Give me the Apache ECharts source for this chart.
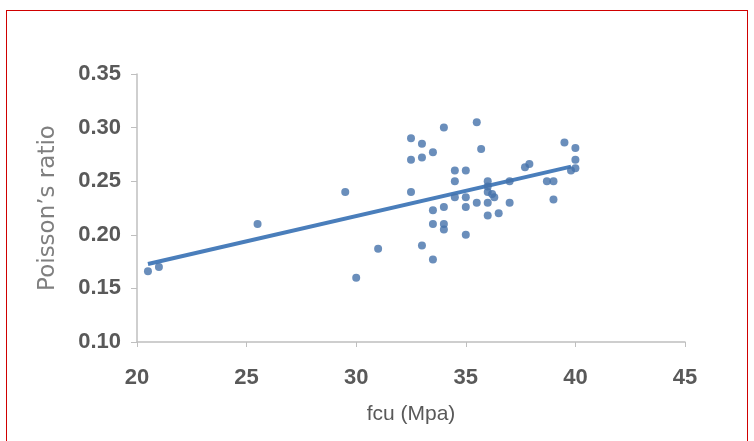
<!DOCTYPE html>
<html><head><meta charset="utf-8">
<script src="https://cdn.jsdelivr.net/npm/echarts@6/dist/echarts.min.js"></script>
<style>
html,body{margin:0;padding:0;background:#fff;}
#frame{position:absolute;left:6px;top:10px;width:742px;height:440px;border:1.5px solid #d00000;border-bottom:none;box-sizing:border-box;}
#c{position:absolute;left:0;top:0;width:754px;height:441px;}
</style></head>
<body>
<div id="frame"></div>
<div id="c"></div>
<script>
const fcu = [20.5,21.0,25.5,29.5,30.0,31.0,32.5,32.5,32.5,33.0,33.0,33.0,33.5,33.5,33.5,33.5,34.0,34.0,34.0,34.0,34.5,34.5,34.5,35.0,35.0,35.0,35.0,35.5,35.5,35.7,36.0,36.0,36.0,36.0,36.0,36.2,36.3,36.5,37.0,37.0,37.7,37.9,38.7,39.0,39.0,39.5,40.0,40.0,39.8,40.0];
const poisson = [0.166,0.170,0.210,0.240,0.160,0.187,0.290,0.270,0.240,0.285,0.272,0.190,0.277,0.223,0.210,0.177,0.300,0.226,0.210,0.205,0.260,0.250,0.235,0.260,0.235,0.226,0.200,0.305,0.230,0.280,0.250,0.245,0.240,0.230,0.218,0.238,0.235,0.220,0.250,0.230,0.263,0.266,0.250,0.250,0.233,0.286,0.281,0.270,0.260,0.262];
const trendX = [20.5, 39.8];
const trendY = [0.1727, 0.2636];
const xTicks = [20,25,30,35,40,45];
const yTicks = [0.10,0.15,0.20,0.25,0.30,0.35];

const pts = fcu.map((v,i)=>[v,poisson[i]]);
const trend = trendX.map((v,i)=>[v,trendY[i]]);
const grey = '#595959';
const fontFam = '"Liberation Sans",Arial,sans-serif';
const chart = echarts.init(document.getElementById('c'));
chart.setOption({
  animation:false,
  grid:{left:137,right:69,top:74,bottom:99,containLabel:false},
  xAxis:{type:'value',min:xTicks[0],max:xTicks[xTicks.length-1],interval:5,
    name:'fcu (Mpa)',nameLocation:'middle',nameGap:62,
    nameTextStyle:{color:grey,fontSize:21,fontFamily:fontFam},
    axisLine:{show:true,lineStyle:{color:'#bfbfbf',width:1.5}},
    axisTick:{show:true,length:5,lineStyle:{color:'#bfbfbf'}},
    axisLabel:{color:grey,fontSize:22,fontWeight:'bold',fontFamily:fontFam,margin:25},
    splitLine:{show:false}},
  yAxis:{type:'value',min:yTicks[0],max:yTicks[yTicks.length-1],interval:0.05,
    name:'Poisson\u2019s ratio',nameLocation:'middle',nameGap:77,
    nameTextStyle:{color:'#7f7f7f',fontSize:23,fontFamily:'"DejaVu Sans",sans-serif'},
    axisLine:{show:true,lineStyle:{color:'#bfbfbf',width:1.5}},
    axisTick:{show:true,length:6,lineStyle:{color:'#bfbfbf'}},
    axisLabel:{color:grey,fontSize:22,fontWeight:'bold',fontFamily:fontFam,margin:16,
      formatter:v=>v.toFixed(2)},
    splitLine:{show:false}},
  series:[
    {type:'scatter',data:pts,symbol:'circle',symbolSize:8,itemStyle:{color:'#4572aa'},z:3},
    {type:'line',data:trend,symbol:'none',lineStyle:{color:'#4a7ebb',width:4},z:2}
  ]
});
</script>
</body></html>
